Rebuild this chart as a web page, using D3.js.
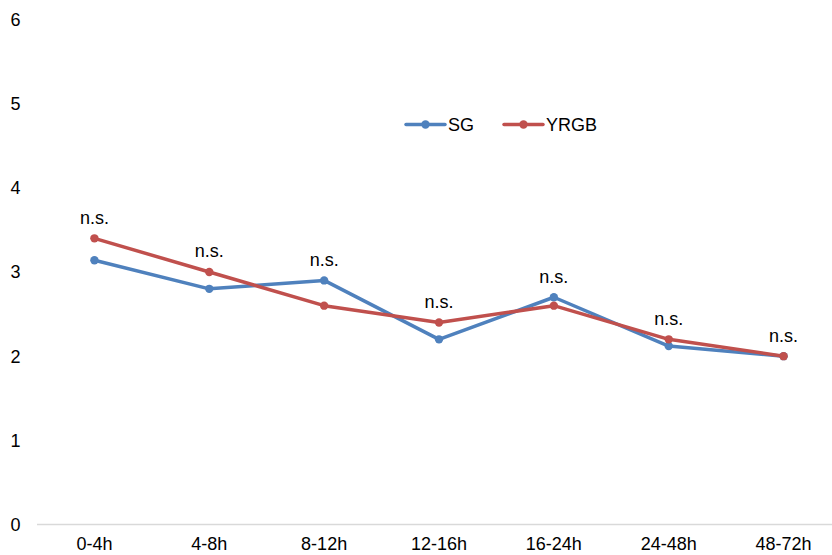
<!DOCTYPE html>
<html>
<head>
<meta charset="utf-8">
<script src="https://cdn.jsdelivr.net/npm/d3@7"></script>
<style>
  html, body { margin: 0; padding: 0; background: #fff; }
  svg { display: block; font-family: "Liberation Sans", Arial, sans-serif; }
</style>
</head>
<body>
<svg id="chart" width="832" height="555"></svg>
<script>
// Time windows after treatment
const categories = ["0-4h", "4-8h", "8-12h", "12-16h", "16-24h", "24-48h", "48-72h"];
// Mean scores per group
const sgValues   = [3.14, 2.80, 2.90, 2.20, 2.70, 2.12, 2.00];
const yrgbValues = [3.40, 3.00, 2.60, 2.40, 2.60, 2.20, 2.00];
// Significance annotation per time window
const sigLabels  = ["n.s.", "n.s.", "n.s.", "n.s.", "n.s.", "n.s.", "n.s."];
const yTicks = [0, 1, 2, 3, 4, 5, 6];

const series = [
  { name: "SG",   values: sgValues,   color: "#4F81BD" },
  { name: "YRGB", values: yrgbValues, color: "#C0504D" }
];

const FS = 18;
const svg = d3.select("#chart");

const x = d3.scaleBand().domain(categories).range([37, 841]);
const y = d3.scaleLinear().domain([0, 6]).range([524.5, 19.5]);
const cx = d => x(d) + x.bandwidth() / 2;

// Baseline
svg.append("line")
  .attr("x1", 37).attr("x2", 841)
  .attr("y1", y(0)).attr("y2", y(0))
  .attr("stroke", "#D9D9D9").attr("stroke-width", 1.5);

// Y tick labels
svg.append("g").selectAll("text").data(yTicks).join("text")
  .attr("x", 20.5).attr("y", d => y(d))
  .attr("dy", "0.36em")
  .attr("text-anchor", "end")
  .attr("font-size", FS).attr("fill", "#000")
  .text(d => d);

// X category labels
svg.append("g").selectAll("text").data(categories).join("text")
  .attr("x", d => cx(d)).attr("y", 544)
  .attr("dy", "0.36em")
  .attr("text-anchor", "middle")
  .attr("font-size", FS).attr("fill", "#000")
  .text(d => d);

// Lines and markers
const line = d3.line()
  .x((d, i) => cx(categories[i]))
  .y(d => y(d));

series.forEach(s => {
  svg.append("path")
    .attr("d", line(s.values))
    .attr("fill", "none")
    .attr("stroke", s.color)
    .attr("stroke-width", 3.5)
    .attr("stroke-linejoin", "round")
    .attr("stroke-linecap", "round");
  svg.append("g").selectAll("circle").data(s.values).join("circle")
    .attr("cx", (d, i) => cx(categories[i]))
    .attr("cy", d => y(d))
    .attr("r", 4.2)
    .attr("fill", s.color);
});

// Significance labels above the higher point of each window
svg.append("g").selectAll("text").data(sigLabels).join("text")
  .attr("x", (d, i) => cx(categories[i]))
  .attr("y", (d, i) => y(Math.max(sgValues[i], yrgbValues[i])) - 21)
  .attr("dy", "0.36em")
  .attr("text-anchor", "middle")
  .attr("font-size", FS).attr("fill", "#000")
  .text(d => d);

// Legend
const legend = [
  { s: series[0], x0: 406 },
  { s: series[1], x0: 504 }
];
const ly = 124.5;
legend.forEach(l => {
  svg.append("line")
    .attr("x1", l.x0).attr("x2", l.x0 + 39)
    .attr("y1", ly).attr("y2", ly)
    .attr("stroke", l.s.color).attr("stroke-width", 3.5)
    .attr("stroke-linecap", "round");
  svg.append("circle")
    .attr("cx", l.x0 + 19.5).attr("cy", ly).attr("r", 4.2)
    .attr("fill", l.s.color);
  svg.append("text")
    .attr("x", l.x0 + 42).attr("y", ly)
    .attr("dy", "0.36em")
    .attr("font-size", FS).attr("fill", "#000")
    .text(l.s.name);
});
</script>
</body>
</html>
